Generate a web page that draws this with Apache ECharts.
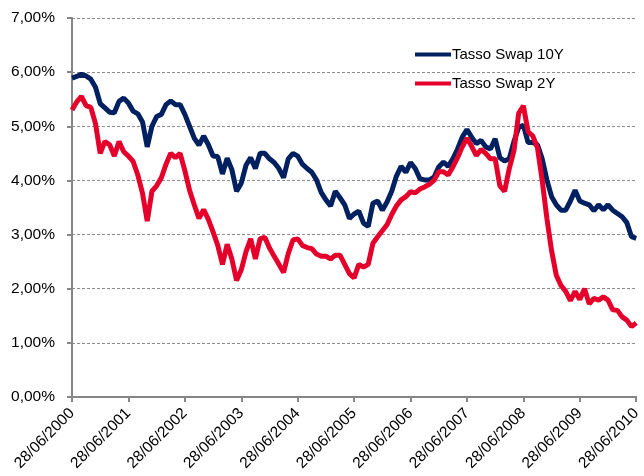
<!DOCTYPE html>
<html>
<head>
<meta charset="utf-8">
<script src="https://cdn.jsdelivr.net/npm/echarts@6/dist/echarts.min.js"></script>
<style>
  html, body { margin: 0; padding: 0; background: #fff; }
  #chart { width: 644px; height: 476px; }
</style>
</head>
<body>
<div id="chart"></div>
<script>
// tick labels on the date axis, one per year
const xLabels = ['28/06/2000', '28/06/2001', '28/06/2002', '28/06/2003', '28/06/2004',
  '28/06/2005', '28/06/2006', '28/06/2007', '28/06/2008', '28/06/2009', '28/06/2010']

// monthly readings (%), from 28/06/2000 to 28/06/2010
const swap10Y = [
  5.89, 5.92, 5.96, 5.93, 5.87, 5.72, 5.42, 5.34, 5.26, 5.25, 5.46, 5.52,
  5.43, 5.28, 5.23, 5.08, 4.62, 5.00, 5.18, 5.22, 5.40, 5.47, 5.40, 5.40,
  5.22, 5.00, 4.78, 4.65, 4.82, 4.66, 4.45, 4.44, 4.12, 4.41, 4.20, 3.80,
  3.95, 4.28, 4.42, 4.22, 4.50, 4.50, 4.40, 4.33, 4.22, 4.05, 4.40, 4.50,
  4.45, 4.30, 4.22, 4.15, 4.01, 3.78, 3.64, 3.53, 3.80, 3.68, 3.55, 3.30,
  3.38, 3.43, 3.21, 3.15, 3.58, 3.62, 3.45, 3.60, 3.80, 4.08, 4.26, 4.15,
  4.33, 4.22, 4.03, 4.01, 4.01, 4.06, 4.25, 4.34, 4.26, 4.40, 4.58, 4.80,
  4.94, 4.80, 4.68, 4.74, 4.62, 4.58, 4.77, 4.42, 4.36, 4.40, 4.72, 4.98,
  5.02, 4.70, 4.70, 4.66, 4.40, 4.01, 3.70, 3.55, 3.45, 3.45, 3.62, 3.82,
  3.62, 3.58, 3.55, 3.44, 3.55, 3.46, 3.55, 3.45, 3.39, 3.33, 3.22, 2.96,
  2.93
]
const swap2Y = [
  5.30, 5.45, 5.55, 5.38, 5.35, 5.05, 4.50, 4.72, 4.66, 4.45, 4.72, 4.53,
  4.45, 4.35, 4.10, 3.76, 3.25, 3.80, 3.90, 4.05, 4.30, 4.50, 4.42, 4.50,
  4.18, 3.82, 3.55, 3.30, 3.46, 3.28, 3.05, 2.80, 2.45, 2.82, 2.55, 2.15,
  2.35, 2.68, 2.92, 2.55, 2.92, 2.95, 2.75, 2.60, 2.45, 2.30, 2.65, 2.90,
  2.92, 2.80, 2.76, 2.74, 2.64, 2.60, 2.60, 2.55, 2.62, 2.62, 2.45, 2.28,
  2.20, 2.45, 2.40, 2.45, 2.84, 2.96, 3.07, 3.18, 3.37, 3.53, 3.64, 3.70,
  3.79, 3.77, 3.84, 3.88, 3.93, 4.00, 4.16, 4.16, 4.10, 4.25, 4.42, 4.62,
  4.78, 4.63, 4.46, 4.57, 4.50, 4.40, 4.40, 3.90, 3.80, 4.22, 4.55, 5.24,
  5.38, 4.90, 4.82, 4.60, 4.00, 3.30, 2.70, 2.25, 2.06, 1.95, 1.78, 1.95,
  1.80, 2.00, 1.72, 1.82, 1.79, 1.85, 1.79, 1.61, 1.60, 1.48, 1.42, 1.30,
  1.37
]

const font = 'Liberation Sans, Arial, sans-serif'

// x position = years since 28/06/2000
function toPoints(arr) {
  return arr.map((v, i) => [i / 12, v])
}

const myChart = echarts.init(document.getElementById('chart'))
myChart.setOption({
  animation: false,
  backgroundColor: '#fff',
  grid: {
    left: 72,
    right: 2,
    top: 18,
    bottom: 79,
    containLabel: false
  },
  legend: {
    orient: 'vertical',
    left: 410,
    top: 42,
    itemGap: 14,
    itemWidth: 36,
    itemHeight: 4,
    icon: 'rect',
    textStyle: { fontFamily: font, fontSize: 15, color: '#000', padding: [0, 0, 0, -4] },
    data: ['Tasso Swap 10Y', 'Tasso Swap 2Y']
  },
  xAxis: {
    type: 'value',
    min: 0,
    max: 10,
    interval: 1,
    axisLine: { lineStyle: { color: '#868686', width: 2 } },
    axisTick: { show: true, inside: false, length: 5, lineStyle: { color: '#868686', width: 2 } },
    splitLine: { show: false },
    axisLabel: {
      rotate: 45,
      margin: 14,
      fontFamily: font,
      fontSize: 15.5,
      color: '#000',
      showMinLabel: true,
      showMaxLabel: true,
      formatter: v => xLabels[Math.round(v)]
    }
  },
  yAxis: {
    type: 'value',
    min: 0,
    max: 7,
    interval: 1,
    axisLine: { show: true, lineStyle: { color: '#868686', width: 2 } },
    axisTick: { show: true, length: 5, lineStyle: { color: '#868686', width: 2 } },
    splitLine: { lineStyle: { color: '#8c8c8c', type: [3, 2], width: 1 } },
    axisLabel: {
      margin: 17,
      fontFamily: font,
      fontSize: 15.5,
      color: '#000',
      formatter: v => v.toFixed(2).replace('.', ',') + '%'
    }
  },
  series: [
    {
      name: 'Tasso Swap 10Y',
      type: 'line',
      showSymbol: false,
      symbol: 'none',
      color: '#002060',
      lineStyle: { width: 5, color: '#002060' },
      data: toPoints(swap10Y)
    },
    {
      name: 'Tasso Swap 2Y',
      type: 'line',
      showSymbol: false,
      symbol: 'none',
      color: '#E4002B',
      lineStyle: { width: 5, color: '#E4002B' },
      data: toPoints(swap2Y)
    }
  ]
})
</script>
</body>
</html>
